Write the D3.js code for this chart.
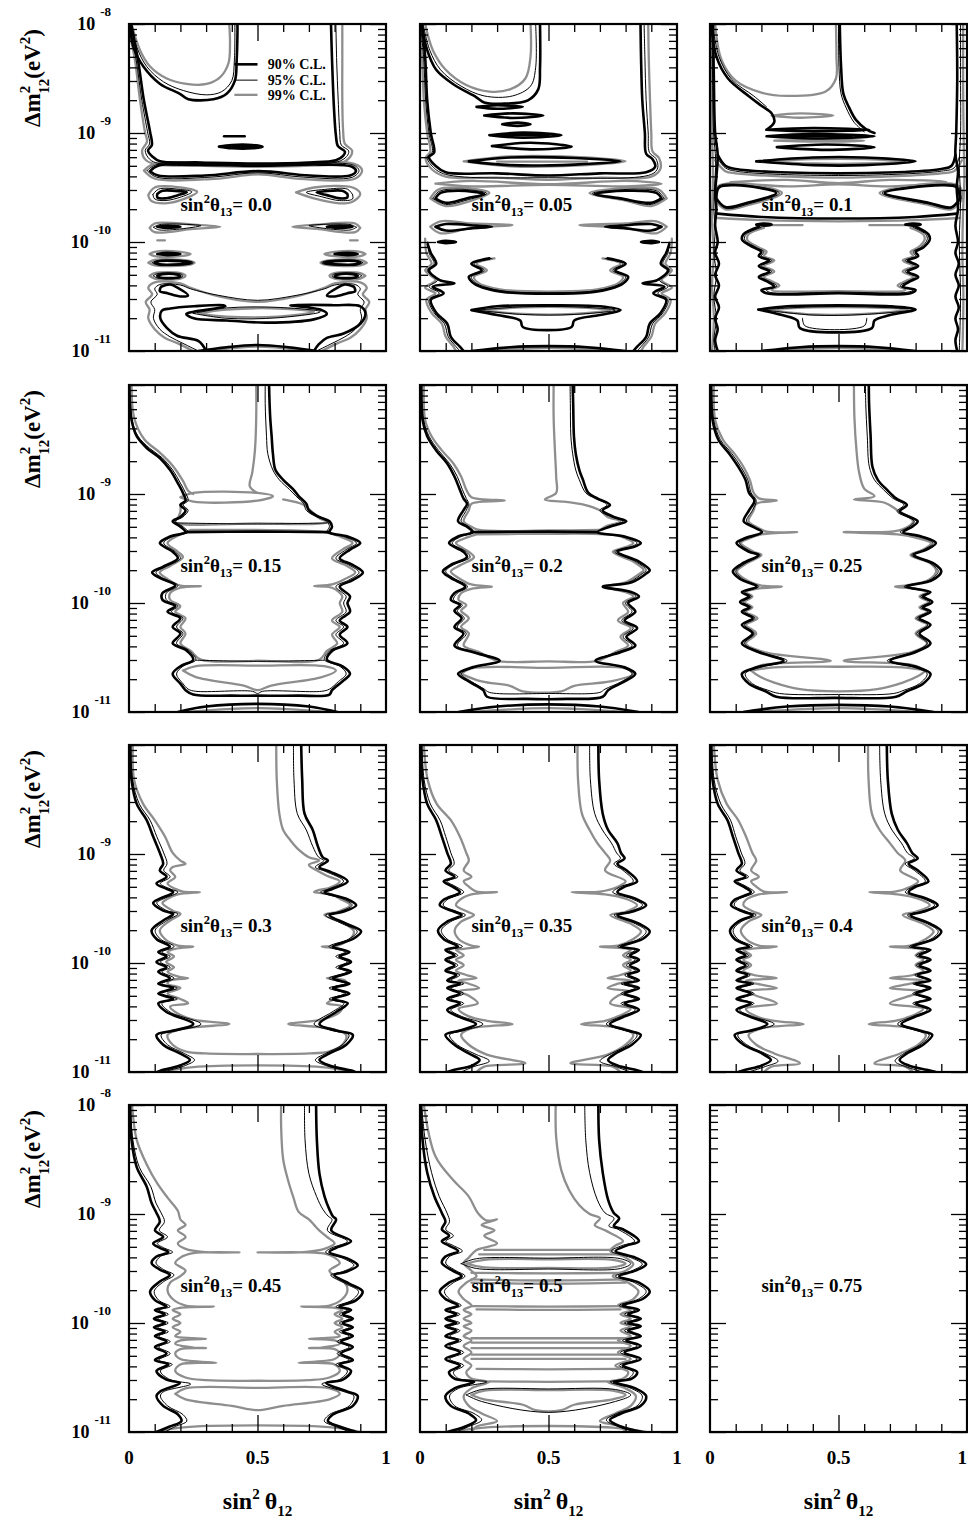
<!DOCTYPE html>
<html>
<head>
<meta charset="utf-8">
<script src="https://cdn.jsdelivr.net/npm/d3@7"></script>
<style>
  body { margin: 0; background: #fff; }
  svg text { font-family: "Liberation Serif", "Times New Roman", serif; font-weight: bold; fill: #000; }
</style>
</head>
<body>
<svg id="chart" width="968" height="1518"></svg>
<script>
// ---- labels and ticks ----
const thetaLabels = ["0.0","0.05","0.1","0.15","0.2","0.25","0.3","0.35","0.4","0.45","0.5","0.75"];
const levelLabels = ["90% C.L.","95% C.L.","99% C.L."];
const legendLogY = [-8.37, -8.515, -8.65];
const xMinorTicks = [0.1,0.2,0.3,0.4,0.6,0.7,0.8,0.9];
const xMajorTicks = [0.5];
const xTickLabels = [0, 0.5, 1];
const decadeExps = [-8,-9,-10,-11];
const rowLabelExps = [[-8,-9,-10,-11],[-9,-10,-11],[-9,-10,-11],[-8,-9,-10,-11]];

// ---- contours: [level, [[sin^2 theta12, log10 dm2], ...]] ; level 0 = 90%, 1 = 95%, 2 = 99% ----
const c000 = [
 [2,[[0.01,-8],[0.043,-8.24],[0.082,-8.39],[0.147,-8.5],[0.224,-8.55],[0.302,-8.55],[0.354,-8.49],[0.387,-8.36],[0.393,-8.18],[0.39,-8]]],
 [2,[[0,-8.06],[0.023,-8.33],[0.043,-8.7],[0.062,-8.99],[0.07,-9.08],[0.051,-9.16],[0.066,-9.25],[0.113,-9.29],[0.276,-9.3],[0.502,-9.31],[0.704,-9.3],[0.821,-9.28],[0.86,-9.22],[0.868,-9.16],[0.84,-9.1],[0.833,-8.97],[0.83,-8.7],[0.83,-8.33],[0.83,-8]]],
 [2,[[0.058,-9.345],[0.097,-9.285],[0.502,-9.29],[0.879,-9.285],[0.907,-9.345],[0.879,-9.42],[0.665,-9.42],[0.502,-9.38],[0.335,-9.42],[0.101,-9.42],[0.058,-9.345]]],
 [2,[[0.075,-9.57],[0.1,-9.5],[0.2,-9.5],[0.265,-9.54],[0.22,-9.6],[0.14,-9.645],[0.085,-9.62],[0.075,-9.57]]],
 [2,[[0.65,-9.545],[0.72,-9.5],[0.87,-9.5],[0.9,-9.56],[0.87,-9.63],[0.82,-9.645],[0.72,-9.6],[0.65,-9.545]]],
 [2,[[0.08,-9.87],[0.1,-9.83],[0.25,-9.84],[0.355,-9.86],[0.25,-9.88],[0.1,-9.91],[0.08,-9.87]]],
 [2,[[0.9,-9.87],[0.88,-9.83],[0.73,-9.84],[0.635,-9.86],[0.73,-9.88],[0.88,-9.91],[0.9,-9.87]]],
 [2,[[0.11,-9.985],[0.14,-9.985]]],
 [2,[[0.86,-9.985],[0.89,-9.985]]],
 [2,[[0.08,-10.11],[0.1,-10.09],[0.2,-10.09],[0.24,-10.11],[0.2,-10.13],[0.1,-10.13],[0.08,-10.11]]],
 [2,[[0.92,-10.11],[0.9,-10.09],[0.8,-10.09],[0.76,-10.11],[0.8,-10.13],[0.9,-10.13],[0.92,-10.11]]],
 [2,[[0.075,-10.19],[0.1,-10.165],[0.23,-10.17],[0.255,-10.19],[0.23,-10.21],[0.1,-10.215],[0.075,-10.19]]],
 [2,[[0.925,-10.19],[0.9,-10.165],[0.77,-10.17],[0.745,-10.19],[0.77,-10.21],[0.9,-10.215],[0.925,-10.19]]],
 [2,[[0.08,-10.31],[0.1,-10.285],[0.2,-10.285],[0.22,-10.31],[0.2,-10.335],[0.1,-10.335],[0.08,-10.31]]],
 [2,[[0.92,-10.31],[0.9,-10.285],[0.8,-10.285],[0.78,-10.31],[0.8,-10.335],[0.9,-10.335],[0.92,-10.31]]],
 [2,[[0.25,-11],[0.19,-10.93],[0.14,-10.88],[0.1,-10.8],[0.075,-10.7],[0.08,-10.62],[0.065,-10.55],[0.09,-10.48],[0.075,-10.42],[0.1,-10.37],[0.2,-10.38],[0.24,-10.42],[0.35,-10.5],[0.5,-10.55],[0.65,-10.5],[0.76,-10.42],[0.8,-10.38],[0.9,-10.37],[0.925,-10.42],[0.91,-10.48],[0.935,-10.55],[0.92,-10.62],[0.925,-10.7],[0.9,-10.8],[0.86,-10.88],[0.81,-10.93],[0.75,-11]]],
 [2,[[0.27,-10.655],[0.38,-10.62],[0.58,-10.61],[0.72,-10.64],[0.58,-10.685],[0.38,-10.685],[0.27,-10.655]]],
 [2,[[0.31,-11],[0.5,-10.96],[0.69,-11]]],
 [0,[[0.004,-8],[0.017,-8.21],[0.056,-8.39],[0.121,-8.55],[0.198,-8.64],[0.231,-8.69],[0.328,-8.69],[0.38,-8.64],[0.412,-8.52],[0.419,-8.33],[0.422,-8.09],[0.422,-8]]],
 [0,[[0.008,-8],[0.035,-8.33],[0.058,-8.7],[0.082,-8.99],[0.089,-9.11],[0.074,-9.16],[0.093,-9.22],[0.121,-9.26],[0.276,-9.27],[0.502,-9.28],[0.704,-9.27],[0.805,-9.25],[0.833,-9.21],[0.84,-9.17],[0.813,-9.12],[0.805,-9.02],[0.798,-8.79],[0.79,-8.33],[0.786,-8]]],
 [0,[[0.082,-9.35],[0.113,-9.3],[0.276,-9.29],[0.502,-9.3],[0.743,-9.29],[0.868,-9.31],[0.883,-9.35],[0.86,-9.39],[0.704,-9.39],[0.502,-9.35],[0.296,-9.39],[0.113,-9.39],[0.082,-9.35]]],
 [0,[[0.35,-9.125],[0.4,-9.11],[0.48,-9.11],[0.52,-9.125],[0.48,-9.14],[0.4,-9.14],[0.35,-9.125]]],
 [0,[[0.38,-9.125],[0.49,-9.125]]],
 [0,[[0.37,-9.03],[0.45,-9.03]]],
 [0,[[0.11,-9.56],[0.13,-9.53],[0.2,-9.535],[0.225,-9.545],[0.19,-9.57],[0.14,-9.6],[0.11,-9.59],[0.11,-9.56]]],
 [0,[[0.85,-9.56],[0.83,-9.53],[0.76,-9.535],[0.73,-9.545],[0.77,-9.57],[0.82,-9.6],[0.85,-9.59],[0.85,-9.56]]],
 [0,[[0.11,-9.86],[0.15,-9.85],[0.2,-9.86],[0.15,-9.872],[0.11,-9.86]]],
 [0,[[0.77,-9.86],[0.82,-9.85],[0.87,-9.86],[0.82,-9.872],[0.77,-9.86]]],
 [0,[[0.11,-10.11],[0.15,-10.1],[0.2,-10.11],[0.15,-10.12],[0.11,-10.11]]],
 [0,[[0.8,-10.11],[0.85,-10.1],[0.89,-10.11],[0.85,-10.12],[0.8,-10.11]]],
 [0,[[0.1,-10.19],[0.12,-10.175],[0.22,-10.18],[0.24,-10.19],[0.22,-10.2],[0.12,-10.205],[0.1,-10.19]]],
 [0,[[0.9,-10.19],[0.88,-10.175],[0.78,-10.18],[0.76,-10.19],[0.78,-10.2],[0.88,-10.205],[0.9,-10.19]]],
 [0,[[0.11,-10.31],[0.13,-10.295],[0.19,-10.3],[0.2,-10.31],[0.19,-10.325],[0.12,-10.325],[0.11,-10.31]]],
 [0,[[0.89,-10.31],[0.87,-10.295],[0.81,-10.3],[0.8,-10.31],[0.81,-10.325],[0.88,-10.325],[0.89,-10.31]]],
 [0,[[0.125,-10.41],[0.16,-10.39],[0.19,-10.42],[0.23,-10.49],[0.2,-10.5],[0.15,-10.47],[0.12,-10.45],[0.125,-10.41]]],
 [0,[[0.875,-10.41],[0.84,-10.39],[0.81,-10.42],[0.77,-10.49],[0.8,-10.5],[0.85,-10.47],[0.88,-10.45],[0.875,-10.41]]],
 [0,[[0.3,-11],[0.271,-10.91],[0.187,-10.86],[0.148,-10.79],[0.122,-10.7],[0.128,-10.63],[0.161,-10.61],[0.252,-10.59],[0.368,-10.58],[0.375,-10.59],[0.252,-10.64],[0.223,-10.66],[0.252,-10.7],[0.381,-10.72],[0.537,-10.74],[0.719,-10.71],[0.77,-10.66],[0.744,-10.62],[0.628,-10.58],[0.796,-10.58],[0.9,-10.59],[0.92,-10.65],[0.9,-10.75],[0.835,-10.84],[0.77,-10.88],[0.738,-10.94],[0.72,-11]]],
 [0,[[0.27,-11],[0.38,-10.965],[0.5,-10.945],[0.62,-10.965],[0.73,-11]]],
 [1,[[0.007,-8],[0.03,-8.21],[0.069,-8.39],[0.134,-8.53],[0.211,-8.61],[0.302,-8.65],[0.361,-8.62],[0.4,-8.52],[0.41,-8.33],[0.412,-8]]],
 [1,[[0.004,-8.03],[0.028,-8.33],[0.05,-8.7],[0.072,-8.99],[0.08,-9.1],[0.063,-9.16],[0.08,-9.24],[0.117,-9.28],[0.5,-9.295],[0.81,-9.265],[0.847,-9.215],[0.855,-9.165],[0.826,-9.11],[0.82,-8.99],[0.814,-8.7],[0.808,-8.33],[0.805,-8]]],
 [1,[[0.07,-9.345],[0.105,-9.293],[0.5,-9.297],[0.873,-9.295],[0.895,-9.345],[0.87,-9.405],[0.68,-9.405],[0.5,-9.365],[0.32,-9.405],[0.107,-9.405],[0.07,-9.345]]],
 [1,[[0.093,-9.565],[0.115,-9.515],[0.2,-9.518],[0.245,-9.54],[0.205,-9.585],[0.14,-9.62],[0.1,-9.605],[0.093,-9.565]]],
 [1,[[0.87,-9.565],[0.85,-9.515],[0.76,-9.518],[0.69,-9.545],[0.75,-9.585],[0.82,-9.62],[0.87,-9.605],[0.87,-9.565]]],
 [1,[[0.095,-9.865],[0.12,-9.84],[0.28,-9.85],[0.12,-9.89],[0.095,-9.865]]],
 [1,[[0.885,-9.865],[0.86,-9.84],[0.7,-9.85],[0.86,-9.89],[0.885,-9.865]]],
 [1,[[0.09,-10.19],[0.11,-10.17],[0.235,-10.175],[0.25,-10.19],[0.235,-10.205],[0.11,-10.21],[0.09,-10.19]]],
 [1,[[0.91,-10.19],[0.89,-10.17],[0.765,-10.175],[0.75,-10.19],[0.765,-10.205],[0.89,-10.21],[0.91,-10.19]]],
 [1,[[0.095,-10.31],[0.11,-10.29],[0.2,-10.292],[0.21,-10.31],[0.2,-10.328],[0.11,-10.33],[0.095,-10.31]]],
 [1,[[0.905,-10.31],[0.89,-10.29],[0.8,-10.292],[0.79,-10.31],[0.8,-10.328],[0.89,-10.33],[0.905,-10.31]]],
 [1,[[0.27,-11],[0.21,-10.93],[0.16,-10.87],[0.12,-10.8],[0.095,-10.7],[0.1,-10.62],[0.085,-10.55],[0.11,-10.48],[0.1,-10.43],[0.12,-10.39],[0.2,-10.395],[0.24,-10.43],[0.35,-10.49],[0.5,-10.535],[0.65,-10.49],[0.76,-10.43],[0.8,-10.395],[0.88,-10.39],[0.9,-10.43],[0.89,-10.48],[0.915,-10.55],[0.9,-10.62],[0.905,-10.7],[0.88,-10.8],[0.84,-10.87],[0.79,-10.93],[0.73,-11]]],
 [1,[[0.25,-10.655],[0.38,-10.605],[0.58,-10.6],[0.745,-10.64],[0.58,-10.695],[0.38,-10.7],[0.25,-10.655]]]
];

const c005 = [
 [2,[[0.02,-8],[0.05,-8.24],[0.1,-8.42],[0.18,-8.56],[0.27,-8.62],[0.35,-8.6],[0.41,-8.5],[0.43,-8.3],[0.43,-8]]],
 [2,[[0,-8.05],[0.008,-8.3],[0.015,-8.7],[0.028,-9],[0.04,-9.17],[0.022,-9.23],[0.045,-9.33],[0.1,-9.4],[0.3,-9.41],[0.5,-9.43],[0.7,-9.41],[0.9,-9.4],[0.935,-9.33],[0.93,-9.23],[0.905,-9.17],[0.9,-9],[0.895,-8.7],[0.89,-8.3],[0.888,-8]]],
 [2,[[0.06,-9.465],[0.2,-9.44],[0.5,-9.47],[0.8,-9.44],[0.94,-9.465],[0.8,-9.49],[0.5,-9.475],[0.2,-9.49],[0.06,-9.465]]],
 [2,[[0.17,-9.26],[0.35,-9.215],[0.6,-9.22],[0.8,-9.26],[0.6,-9.3],[0.35,-9.305],[0.17,-9.26]]],
 [2,[[0.3,-9.262],[0.65,-9.262]]],
 [2,[[0.04,-9.6],[0.07,-9.52],[0.15,-9.5],[0.27,-9.55],[0.2,-9.62],[0.1,-9.67],[0.04,-9.6]]],
 [2,[[0.96,-9.6],[0.93,-9.52],[0.85,-9.5],[0.66,-9.55],[0.8,-9.62],[0.9,-9.67],[0.96,-9.6]]],
 [2,[[0.04,-9.86],[0.08,-9.81],[0.2,-9.83],[0.36,-9.845],[0.2,-9.87],[0.08,-9.92],[0.04,-9.86]]],
 [2,[[0.96,-9.86],[0.92,-9.81],[0.8,-9.83],[0.62,-9.845],[0.8,-9.87],[0.92,-9.92],[0.96,-9.86]]],
 [2,[[0.02,-9.97],[0.025,-10.1],[0.045,-10.2],[0.02,-10.26],[0.06,-10.35],[0.02,-10.42],[0.06,-10.47],[0.025,-10.53],[0.045,-10.65],[0.085,-10.75],[0.1,-10.87],[0.13,-10.96],[0.14,-11]]],
 [2,[[0.98,-9.97],[0.975,-10.1],[0.955,-10.2],[0.98,-10.26],[0.94,-10.35],[0.98,-10.42],[0.94,-10.47],[0.975,-10.53],[0.955,-10.65],[0.915,-10.75],[0.9,-10.87],[0.87,-10.96],[0.86,-11]]],
 [2,[[0.29,-10.15],[0.22,-10.2],[0.26,-10.26],[0.21,-10.32],[0.23,-10.38],[0.28,-10.42],[0.35,-10.445],[0.5,-10.455],[0.65,-10.445],[0.72,-10.42],[0.77,-10.38],[0.79,-10.32],[0.74,-10.26],[0.78,-10.2],[0.71,-10.15]]],
 [2,[[0.24,-10.625],[0.4,-10.6],[0.6,-10.6],[0.74,-10.625],[0.6,-10.66],[0.4,-10.66],[0.24,-10.625]]],
 [2,[[0.25,-11],[0.5,-10.97],[0.75,-11]]],
 [0,[[0.007,-8],[0.028,-8.24],[0.063,-8.42],[0.134,-8.56],[0.218,-8.67],[0.25,-8.72],[0.33,-8.73],[0.42,-8.7],[0.46,-8.6],[0.467,-8.4],[0.467,-8]]],
 [0,[[0.22,-8.76],[0.3,-8.745],[0.4,-8.76],[0.3,-8.778],[0.22,-8.76]]],
 [0,[[0.25,-8.84],[0.36,-8.82],[0.48,-8.84],[0.36,-8.862],[0.25,-8.84]]],
 [0,[[0.32,-8.92],[0.38,-8.905],[0.43,-8.92],[0.38,-8.935],[0.32,-8.92]]],
 [0,[[0.27,-9.02],[0.4,-8.997],[0.55,-9.02],[0.4,-9.043],[0.27,-9.02]]],
 [0,[[0.3,-9.02],[0.5,-9.02]]],
 [0,[[0.28,-9.12],[0.43,-9.09],[0.59,-9.125],[0.43,-9.15],[0.28,-9.12]]],
 [0,[[0.19,-9.26],[0.35,-9.225],[0.6,-9.23],[0.78,-9.26],[0.6,-9.29],[0.35,-9.295],[0.19,-9.26]]],
 [0,[[0.007,-8],[0.02,-8.3],[0.028,-8.7],[0.042,-9],[0.055,-9.18],[0.035,-9.22],[0.06,-9.3],[0.1,-9.36],[0.3,-9.37],[0.5,-9.39],[0.7,-9.37],[0.88,-9.36],[0.915,-9.31],[0.905,-9.24],[0.88,-9.19],[0.875,-9],[0.865,-8.7],[0.86,-8.3],[0.858,-8]]],
 [0,[[0.06,-9.6],[0.08,-9.55],[0.15,-9.53],[0.25,-9.56],[0.18,-9.6],[0.1,-9.64],[0.06,-9.6]]],
 [0,[[0.94,-9.6],[0.92,-9.55],[0.8,-9.53],[0.68,-9.56],[0.78,-9.6],[0.9,-9.64],[0.94,-9.6]]],
 [0,[[0.06,-9.86],[0.1,-9.835],[0.22,-9.85],[0.28,-9.86],[0.2,-9.875],[0.1,-9.895],[0.06,-9.86]]],
 [0,[[0.94,-9.86],[0.9,-9.835],[0.78,-9.85],[0.72,-9.86],[0.8,-9.875],[0.9,-9.895],[0.94,-9.86]]],
 [0,[[0.07,-10],[0.1,-9.99],[0.14,-10],[0.1,-10.01],[0.07,-10]]],
 [0,[[0.93,-10],[0.9,-9.99],[0.86,-10],[0.9,-10.01],[0.93,-10]]],
 [0,[[0.03,-10.02],[0.042,-10.1],[0.063,-10.2],[0.035,-10.26],[0.077,-10.35],[0.134,-10.38],[0.049,-10.41],[0.092,-10.47],[0.042,-10.53],[0.063,-10.65],[0.106,-10.75],[0.12,-10.87],[0.155,-10.96],[0.17,-11]]],
 [0,[[0.97,-10.02],[0.958,-10.1],[0.937,-10.2],[0.965,-10.26],[0.923,-10.35],[0.866,-10.38],[0.951,-10.41],[0.908,-10.47],[0.958,-10.53],[0.937,-10.65],[0.894,-10.75],[0.88,-10.87],[0.845,-10.96],[0.83,-11]]],
 [0,[[0.27,-10.15],[0.2,-10.2],[0.24,-10.26],[0.19,-10.32],[0.21,-10.38],[0.26,-10.43],[0.33,-10.46],[0.5,-10.475],[0.67,-10.46],[0.74,-10.43],[0.79,-10.38],[0.81,-10.32],[0.76,-10.26],[0.8,-10.2],[0.73,-10.15]]],
 [0,[[0.2,-10.625],[0.3,-10.59],[0.5,-10.58],[0.7,-10.59],[0.78,-10.625],[0.7,-10.67],[0.6,-10.72],[0.59,-10.78],[0.4,-10.78],[0.39,-10.72],[0.3,-10.67],[0.2,-10.625]]],
 [0,[[0.2,-11],[0.35,-10.965],[0.5,-10.955],[0.65,-10.965],[0.8,-11]]],
 [1,[[0.012,-8],[0.038,-8.24],[0.08,-8.42],[0.16,-8.57],[0.25,-8.66],[0.36,-8.66],[0.43,-8.57],[0.45,-8.4],[0.45,-8]]],
 [1,[[0.003,-8.03],[0.014,-8.3],[0.022,-8.7],[0.035,-9],[0.048,-9.175],[0.028,-9.225],[0.052,-9.315],[0.1,-9.38],[0.5,-9.41],[0.9,-9.38],[0.925,-9.32],[0.918,-9.235],[0.893,-9.18],[0.888,-9],[0.88,-8.7],[0.875,-8.3],[0.872,-8]]],
 [1,[[0.05,-9.6],[0.075,-9.535],[0.15,-9.515],[0.26,-9.555],[0.19,-9.61],[0.1,-9.655],[0.05,-9.6]]],
 [1,[[0.95,-9.6],[0.925,-9.535],[0.85,-9.515],[0.67,-9.555],[0.79,-9.61],[0.9,-9.655],[0.95,-9.6]]],
 [1,[[0.03,-10],[0.035,-10.1],[0.055,-10.2],[0.028,-10.26],[0.068,-10.35],[0.035,-10.41],[0.075,-10.47],[0.035,-10.53],[0.055,-10.65],[0.095,-10.75],[0.11,-10.87],[0.14,-10.96],[0.155,-11]]],
 [1,[[0.97,-10],[0.965,-10.1],[0.945,-10.2],[0.972,-10.26],[0.932,-10.35],[0.965,-10.41],[0.925,-10.47],[0.965,-10.53],[0.945,-10.65],[0.905,-10.75],[0.89,-10.87],[0.86,-10.96],[0.845,-11]]],
 [1,[[0.28,-10.15],[0.21,-10.2],[0.25,-10.26],[0.2,-10.32],[0.22,-10.38],[0.27,-10.425],[0.34,-10.455],[0.5,-10.465],[0.66,-10.455],[0.73,-10.425],[0.78,-10.38],[0.8,-10.32],[0.75,-10.26],[0.79,-10.2],[0.72,-10.15]]],
 [1,[[0.22,-10.625],[0.4,-10.595],[0.6,-10.595],[0.76,-10.625],[0.6,-10.665],[0.4,-10.665],[0.22,-10.625]]]
];

const c010 = [
 [2,[[0.02,-8],[0.045,-8.33],[0.1,-8.52],[0.2,-8.63],[0.3,-8.66],[0.45,-8.62],[0.49,-8.5],[0.492,-8.3],[0.49,-8]]],
 [2,[[0.24,-8.84],[0.35,-8.82],[0.48,-8.84],[0.35,-8.86],[0.24,-8.84]]],
 [2,[[0.25,-9.07],[0.45,-9.06],[0.6,-9.07],[0.45,-9.08],[0.25,-9.07]]],
 [2,[[0.22,-9.26],[0.4,-9.24],[0.6,-9.24],[0.76,-9.26],[0.6,-9.28],[0.4,-9.28],[0.22,-9.26]]],
 [2,[[0.004,-8],[0.006,-8.5],[0.008,-9],[0.012,-9.4],[0.008,-9.8],[0.015,-10.1],[0.008,-10.4],[0.015,-10.7],[0.008,-11]]],
 [2,[[0.985,-8],[0.985,-8.6],[0.988,-9.2],[0.99,-9.4],[0.985,-9.7],[0.982,-10.1],[0.986,-10.5],[0.982,-11]]],
 [2,[[0.02,-9.25],[0.06,-9.35],[0.1,-9.37],[0.5,-9.41],[0.9,-9.37],[0.95,-9.35],[0.98,-9.25]]],
 [2,[[0.08,-9.45],[0.3,-9.43],[0.5,-9.46],[0.7,-9.43],[0.92,-9.45],[0.7,-9.49],[0.5,-9.47],[0.3,-9.49],[0.08,-9.45]]],
 [2,[[0.015,-9.6],[0.03,-9.49],[0.1,-9.46],[0.28,-9.55],[0.15,-9.66],[0.06,-9.7],[0.015,-9.6]]],
 [2,[[0.985,-9.6],[0.97,-9.49],[0.9,-9.46],[0.66,-9.55],[0.85,-9.66],[0.94,-9.7],[0.985,-9.6]]],
 [2,[[0.03,-9.78],[0.2,-9.8],[0.5,-9.81],[0.8,-9.8],[0.97,-9.78]]],
 [2,[[0.2,-9.845],[0.36,-9.845]]],
 [2,[[0.62,-9.845],[0.8,-9.845]]],
 [2,[[0.21,-9.87],[0.15,-9.93],[0.145,-9.98],[0.19,-10.05],[0.22,-10.09],[0.21,-10.13],[0.25,-10.17],[0.21,-10.22],[0.25,-10.27],[0.21,-10.32],[0.24,-10.36],[0.27,-10.4],[0.24,-10.44],[0.5,-10.45],[0.76,-10.44],[0.73,-10.4],[0.76,-10.36],[0.79,-10.32],[0.75,-10.27],[0.79,-10.22],[0.75,-10.17],[0.79,-10.13],[0.78,-10.09],[0.81,-10.05],[0.835,-9.98],[0.83,-9.93],[0.78,-9.87]]],
 [2,[[0.22,-10.62],[0.4,-10.6],[0.6,-10.6],[0.77,-10.62],[0.6,-10.66],[0.4,-10.665],[0.22,-10.62]]],
 [2,[[0.25,-11],[0.5,-10.97],[0.75,-11]]],
 [0,[[0.005,-8],[0.025,-8.3],[0.07,-8.5],[0.15,-8.66],[0.2,-8.75],[0.24,-8.82],[0.25,-8.9],[0.22,-8.97]]],
 [0,[[0.505,-8],[0.51,-8.39],[0.519,-8.64],[0.54,-8.76],[0.568,-8.88],[0.61,-8.97],[0.64,-9]]],
 [0,[[0.22,-8.97],[0.4,-8.955],[0.62,-8.97],[0.4,-8.985],[0.22,-8.97]]],
 [0,[[0.22,-9.03],[0.4,-9.01],[0.64,-9.03],[0.4,-9.05],[0.22,-9.03]]],
 [0,[[0.3,-9.03],[0.55,-9.03]]],
 [0,[[0.26,-9.13],[0.45,-9.105],[0.64,-9.13],[0.45,-9.155],[0.26,-9.13]]],
 [0,[[0.18,-9.26],[0.4,-9.225],[0.6,-9.225],[0.8,-9.26],[0.6,-9.295],[0.4,-9.295],[0.18,-9.26]]],
 [0,[[0.012,-8],[0.015,-8.5],[0.02,-9],[0.03,-9.2],[0.025,-9.4],[0.02,-9.55],[0.025,-9.7],[0.02,-9.85],[0.03,-10],[0.02,-10.1],[0.035,-10.2],[0.02,-10.3],[0.035,-10.4],[0.02,-10.5],[0.035,-10.6],[0.02,-10.7],[0.03,-10.8],[0.02,-10.9],[0.03,-11]]],
 [0,[[0.96,-8],[0.962,-8.5],[0.958,-9],[0.955,-9.2],[0.965,-9.35],[0.96,-9.5],[0.965,-9.7],[0.955,-9.85],[0.965,-10],[0.955,-10.1],[0.968,-10.2],[0.955,-10.3],[0.968,-10.4],[0.955,-10.5],[0.968,-10.6],[0.955,-10.7],[0.965,-10.8],[0.955,-10.9],[0.962,-11]]],
 [0,[[0.03,-9.2],[0.06,-9.3],[0.1,-9.33],[0.5,-9.37],[0.9,-9.33],[0.94,-9.3],[0.955,-9.2]]],
 [0,[[0.025,-9.6],[0.035,-9.5],[0.1,-9.48],[0.258,-9.55],[0.145,-9.64],[0.06,-9.68],[0.025,-9.6]]],
 [0,[[0.972,-9.6],[0.96,-9.5],[0.9,-9.48],[0.68,-9.55],[0.85,-9.64],[0.94,-9.68],[0.972,-9.6]]],
 [0,[[0.03,-9.74],[0.2,-9.77],[0.5,-9.785],[0.8,-9.77],[0.96,-9.74]]],
 [0,[[0.18,-9.84],[0.21,-9.83],[0.24,-9.84],[0.21,-9.85],[0.18,-9.84]]],
 [0,[[0.76,-9.84],[0.79,-9.83],[0.82,-9.84],[0.79,-9.85],[0.76,-9.84]]],
 [0,[[0.19,-9.86],[0.13,-9.93],[0.125,-9.98],[0.17,-10.05],[0.2,-10.09],[0.19,-10.13],[0.23,-10.17],[0.19,-10.22],[0.23,-10.27],[0.19,-10.32],[0.22,-10.36],[0.25,-10.41],[0.2,-10.44],[0.22,-10.47],[0.5,-10.47],[0.78,-10.47],[0.8,-10.44],[0.75,-10.41],[0.78,-10.36],[0.81,-10.32],[0.77,-10.27],[0.81,-10.22],[0.77,-10.17],[0.81,-10.13],[0.8,-10.09],[0.83,-10.05],[0.855,-9.98],[0.85,-9.93],[0.8,-9.86]]],
 [0,[[0.188,-10.62],[0.3,-10.59],[0.5,-10.58],[0.7,-10.59],[0.8,-10.62],[0.7,-10.67],[0.64,-10.72],[0.63,-10.79],[0.35,-10.79],[0.34,-10.72],[0.28,-10.67],[0.188,-10.62]]],
 [0,[[0.2,-11],[0.35,-10.965],[0.5,-10.955],[0.65,-10.965],[0.8,-11]]],
 [1,[[0.01,-8],[0.035,-8.3],[0.085,-8.51],[0.17,-8.66],[0.22,-8.76]]],
 [1,[[0.5,-8],[0.502,-8.4],[0.51,-8.64],[0.53,-8.77],[0.56,-8.9],[0.6,-8.99]]],
 [1,[[0.008,-8],[0.01,-8.5],[0.014,-9],[0.022,-9.25],[0.018,-9.5],[0.015,-9.7],[0.02,-9.9],[0.015,-10.1],[0.025,-10.3],[0.015,-10.5],[0.025,-10.7],[0.015,-10.9],[0.02,-11]]],
 [1,[[0.975,-8],[0.975,-8.5],[0.975,-9],[0.97,-9.3],[0.975,-9.6],[0.97,-10],[0.975,-10.5],[0.97,-11]]],
 [1,[[0.025,-9.22],[0.06,-9.32],[0.1,-9.35],[0.5,-9.39],[0.9,-9.35],[0.95,-9.32],[0.97,-9.22]]],
 [1,[[0.02,-9.6],[0.033,-9.49],[0.1,-9.47],[0.27,-9.55],[0.15,-9.65],[0.06,-9.69],[0.02,-9.6]]],
 [1,[[0.978,-9.6],[0.965,-9.49],[0.9,-9.47],[0.67,-9.55],[0.85,-9.65],[0.94,-9.69],[0.978,-9.6]]],
 [1,[[0.2,-9.865],[0.14,-9.93],[0.135,-9.98],[0.18,-10.05],[0.21,-10.09],[0.2,-10.13],[0.24,-10.17],[0.2,-10.22],[0.24,-10.27],[0.2,-10.32],[0.23,-10.36],[0.26,-10.405],[0.22,-10.44],[0.23,-10.46],[0.5,-10.46],[0.77,-10.46],[0.79,-10.44],[0.74,-10.405],[0.77,-10.36],[0.8,-10.32],[0.76,-10.27],[0.8,-10.22],[0.76,-10.17],[0.8,-10.13],[0.79,-10.09],[0.82,-10.05],[0.845,-9.98],[0.84,-9.93],[0.79,-9.865]]],
 [1,[[0.2,-10.62],[0.4,-10.595],[0.6,-10.595],[0.79,-10.62],[0.6,-10.665],[0.4,-10.67],[0.2,-10.62]]],
 [1,[[0.36,-10.7],[0.37,-10.77],[0.6,-10.77],[0.61,-10.7]]]
];

const c015 = [
 [2,[[0.01,-8],[0.02,-8.3],[0.06,-8.5],[0.12,-8.62],[0.17,-8.74],[0.21,-8.88],[0.23,-8.97],[0.25,-9]]],
 [2,[[0.2,-9.03],[0.25,-8.99],[0.5,-8.99],[0.56,-9.02],[0.5,-9.06],[0.25,-9.07],[0.2,-9.03]]],
 [2,[[0.495,-8],[0.495,-8.3],[0.49,-8.6],[0.48,-8.8],[0.47,-8.93],[0.5,-8.99]]],
 [2,[[0.2,-9.1],[0.2,-9.16],[0.19,-9.22],[0.18,-9.26],[0.5,-9.27],[0.77,-9.26],[0.74,-9.22],[0.71,-9.16],[0.68,-9.1],[0.6,-9.05]]],
 [2,[[0.24,-9.33],[0.2,-9.37],[0.15,-9.45],[0.19,-9.53],[0.21,-9.58],[0.16,-9.66],[0.12,-9.72],[0.15,-9.78],[0.2,-9.84],[0.28,-9.845],[0.2,-9.86],[0.16,-9.91],[0.16,-9.97],[0.2,-10.03],[0.18,-10.08],[0.22,-10.14],[0.2,-10.22],[0.22,-10.28],[0.2,-10.37],[0.24,-10.44],[0.28,-10.52],[0.5,-10.53],[0.74,-10.52],[0.77,-10.44],[0.81,-10.37],[0.79,-10.29],[0.82,-10.22],[0.79,-10.16],[0.83,-10.08],[0.82,-10],[0.83,-9.94],[0.79,-9.86],[0.72,-9.845],[0.79,-9.83],[0.84,-9.78],[0.88,-9.72],[0.84,-9.65],[0.79,-9.59],[0.83,-9.51],[0.87,-9.45],[0.82,-9.39],[0.76,-9.35],[0.5,-9.33],[0.24,-9.33]]],
 [2,[[0.21,-10.62],[0.26,-10.58],[0.5,-10.575],[0.76,-10.58],[0.805,-10.62],[0.75,-10.68],[0.55,-10.76],[0.5,-10.8],[0.45,-10.76],[0.26,-10.68],[0.21,-10.62]]],
 [2,[[0.22,-11],[0.5,-10.965],[0.78,-11]]],
 [0,[[0,-8],[0.01,-8.32],[0.03,-8.47],[0.07,-8.58],[0.12,-8.67],[0.16,-8.78],[0.19,-8.9],[0.21,-8.99],[0.22,-9.06],[0.2,-9.1],[0.22,-9.15],[0.2,-9.21],[0.17,-9.25],[0.2,-9.3],[0.22,-9.35],[0.16,-9.39],[0.12,-9.45],[0.17,-9.53],[0.19,-9.59],[0.13,-9.67],[0.09,-9.72],[0.12,-9.77],[0.18,-9.84],[0.13,-9.91],[0.13,-9.97],[0.18,-10.03],[0.15,-10.08],[0.2,-10.14],[0.17,-10.22],[0.2,-10.28],[0.17,-10.37],[0.22,-10.43],[0.25,-10.52],[0.2,-10.58],[0.17,-10.65],[0.2,-10.74],[0.22,-10.8],[0.25,-10.84],[0.4,-10.85],[0.5,-10.85],[0.66,-10.85],[0.78,-10.84],[0.79,-10.8],[0.83,-10.72],[0.86,-10.65],[0.83,-10.58],[0.77,-10.52],[0.79,-10.44],[0.85,-10.37],[0.82,-10.29],[0.85,-10.22],[0.82,-10.16],[0.86,-10.08],[0.85,-10],[0.86,-9.94],[0.82,-9.85],[0.87,-9.79],[0.91,-9.72],[0.87,-9.65],[0.82,-9.59],[0.86,-9.51],[0.9,-9.45],[0.85,-9.39],[0.78,-9.35],[0.79,-9.3],[0.78,-9.25],[0.74,-9.21],[0.7,-9.15],[0.69,-9.09],[0.66,-9.02],[0.64,-8.96],[0.6,-8.87],[0.57,-8.78],[0.56,-8.63],[0.555,-8.47],[0.55,-8.32],[0.547,-8.17],[0.545,-8]]],
 [0,[[0.22,-9.35],[0.5,-9.345],[0.78,-9.35]]],
 [0,[[0.19,-11],[0.3,-10.95],[0.5,-10.925],[0.7,-10.95],[0.81,-11]]],
 [1,[[0.004,-8],[0.012,-8.32],[0.035,-8.47],[0.08,-8.58],[0.13,-8.67],[0.17,-8.78],[0.2,-8.9],[0.22,-8.99],[0.23,-9.06],[0.21,-9.1],[0.23,-9.15],[0.21,-9.21],[0.18,-9.25],[0.21,-9.3],[0.23,-9.35],[0.17,-9.39],[0.135,-9.45],[0.18,-9.53],[0.2,-9.59],[0.14,-9.67],[0.105,-9.72],[0.13,-9.77],[0.19,-9.84],[0.145,-9.91],[0.145,-9.97],[0.19,-10.03],[0.165,-10.08],[0.21,-10.14],[0.185,-10.22],[0.21,-10.28],[0.185,-10.37],[0.23,-10.43],[0.26,-10.52],[0.21,-10.58],[0.185,-10.65],[0.21,-10.74],[0.23,-10.79],[0.26,-10.81],[0.48,-10.81],[0.5,-10.83],[0.52,-10.81],[0.75,-10.81],[0.78,-10.79],[0.815,-10.72],[0.845,-10.65],[0.82,-10.58],[0.76,-10.52],[0.78,-10.44],[0.835,-10.37],[0.805,-10.29],[0.835,-10.22],[0.805,-10.16],[0.845,-10.08],[0.835,-10],[0.845,-9.94],[0.805,-9.85],[0.855,-9.79],[0.895,-9.72],[0.855,-9.65],[0.805,-9.59],[0.845,-9.51],[0.885,-9.45],[0.835,-9.39],[0.77,-9.35],[0.78,-9.3],[0.77,-9.25],[0.73,-9.21],[0.69,-9.15],[0.68,-9.09],[0.65,-9.02],[0.625,-8.96],[0.585,-8.87],[0.56,-8.78],[0.54,-8.63],[0.535,-8.47],[0.532,-8.32],[0.53,-8.17],[0.53,-8]]],
 [1,[[0.18,-9.265],[0.5,-9.275],[0.78,-9.265]]],
 [1,[[0.26,-10.525],[0.5,-10.535],[0.76,-10.525]]]
];

const c020 = [
 [2,[[0.015,-8],[0.02,-8.32],[0.045,-8.47],[0.085,-8.6],[0.13,-8.72],[0.16,-8.84],[0.18,-8.96],[0.2,-9.03],[0.33,-9.06],[0.2,-9.09],[0.19,-9.15],[0.17,-9.25],[0.2,-9.3],[0.23,-9.33],[0.5,-9.335],[0.7,-9.33]]],
 [2,[[0.52,-8],[0.52,-8.3],[0.525,-8.6],[0.53,-8.85],[0.53,-8.99],[0.486,-9.05],[0.56,-9.07],[0.64,-9.1],[0.7,-9.15],[0.73,-9.21],[0.78,-9.25],[0.72,-9.3],[0.7,-9.33]]],
 [2,[[0.22,-9.37],[0.17,-9.41],[0.14,-9.45],[0.19,-9.53],[0.21,-9.58],[0.16,-9.65],[0.12,-9.71],[0.15,-9.77],[0.2,-9.83],[0.28,-9.85],[0.2,-9.87],[0.16,-9.91],[0.15,-9.97],[0.18,-10.02],[0.16,-10.07],[0.19,-10.14],[0.16,-10.22],[0.19,-10.28],[0.17,-10.39],[0.23,-10.45],[0.3,-10.53],[0.5,-10.535],[0.69,-10.53],[0.76,-10.45],[0.81,-10.39],[0.78,-10.31],[0.82,-10.23],[0.77,-10.16],[0.81,-10.08],[0.79,-10],[0.83,-9.94],[0.8,-9.9],[0.72,-9.85],[0.8,-9.81],[0.855,-9.73],[0.87,-9.7],[0.83,-9.62],[0.75,-9.53],[0.81,-9.48],[0.83,-9.45],[0.78,-9.39],[0.72,-9.37],[0.5,-9.365],[0.22,-9.37]]],
 [2,[[0.16,-10.65],[0.2,-10.6],[0.5,-10.595],[0.8,-10.6],[0.83,-10.65],[0.74,-10.72],[0.6,-10.76],[0.55,-10.81],[0.4,-10.81],[0.35,-10.76],[0.24,-10.72],[0.16,-10.65]]],
 [2,[[0.2,-11],[0.5,-10.965],[0.8,-11]]],
 [0,[[0.004,-8],[0.01,-8.32],[0.028,-8.47],[0.063,-8.6],[0.106,-8.72],[0.134,-8.84],[0.155,-8.96],[0.169,-9.04],[0.183,-9.09],[0.169,-9.15],[0.148,-9.25],[0.183,-9.3],[0.204,-9.35],[0.148,-9.39],[0.113,-9.45],[0.169,-9.53],[0.183,-9.58],[0.12,-9.65],[0.089,-9.71],[0.12,-9.77],[0.176,-9.85],[0.134,-9.91],[0.12,-9.97],[0.155,-10.02],[0.134,-10.07],[0.162,-10.14],[0.134,-10.22],[0.169,-10.28],[0.134,-10.39],[0.204,-10.45],[0.31,-10.53],[0.204,-10.59],[0.148,-10.65],[0.19,-10.72],[0.246,-10.8],[0.261,-10.86],[0.415,-10.88],[0.57,-10.88],[0.711,-10.86],[0.732,-10.8],[0.796,-10.72],[0.838,-10.65],[0.796,-10.59],[0.683,-10.53],[0.782,-10.45],[0.838,-10.39],[0.803,-10.31],[0.845,-10.23],[0.796,-10.16],[0.838,-10.08],[0.81,-10],[0.852,-9.94],[0.824,-9.9],[0.711,-9.85],[0.824,-9.81],[0.88,-9.73],[0.894,-9.7],[0.852,-9.62],[0.768,-9.53],[0.838,-9.48],[0.859,-9.45],[0.796,-9.39],[0.69,-9.35],[0.739,-9.3],[0.803,-9.25],[0.754,-9.21],[0.711,-9.15],[0.739,-9.1],[0.69,-9.04],[0.655,-8.99],[0.634,-8.87],[0.62,-8.78],[0.606,-8.63],[0.599,-8.47],[0.596,-8.17],[0.594,-8]]],
 [0,[[0.2,-9.35],[0.5,-9.345],[0.69,-9.35]]],
 [0,[[0.15,-11],[0.3,-10.95],[0.5,-10.93],[0.7,-10.95],[0.85,-11]]],
 [1,[[0.008,-8],[0.014,-8.32],[0.035,-8.47],[0.072,-8.6],[0.115,-8.72],[0.145,-8.84],[0.165,-8.96],[0.18,-9.04],[0.19,-9.09],[0.18,-9.15],[0.16,-9.25],[0.19,-9.3],[0.21,-9.35],[0.16,-9.39],[0.125,-9.45],[0.18,-9.53],[0.195,-9.58],[0.13,-9.65],[0.1,-9.71],[0.13,-9.77],[0.185,-9.85],[0.145,-9.91],[0.13,-9.97],[0.165,-10.02],[0.145,-10.07],[0.172,-10.14],[0.145,-10.22],[0.18,-10.28],[0.145,-10.39],[0.215,-10.45],[0.31,-10.53],[0.215,-10.59],[0.16,-10.65],[0.2,-10.72],[0.25,-10.79],[0.27,-10.82],[0.5,-10.83],[0.7,-10.82],[0.72,-10.79],[0.785,-10.72],[0.825,-10.65],[0.785,-10.59],[0.683,-10.53],[0.77,-10.45],[0.825,-10.39],[0.79,-10.31],[0.83,-10.23],[0.785,-10.16],[0.825,-10.08],[0.8,-10],[0.84,-9.94],[0.812,-9.9],[0.711,-9.85],[0.812,-9.81],[0.865,-9.73],[0.88,-9.7],[0.84,-9.62],[0.758,-9.53],[0.825,-9.48],[0.845,-9.45],[0.785,-9.39],[0.69,-9.35],[0.73,-9.3],[0.79,-9.25],[0.745,-9.21],[0.7,-9.15],[0.728,-9.1],[0.68,-9.04],[0.645,-8.99],[0.62,-8.87],[0.606,-8.78],[0.594,-8.63],[0.587,-8.47],[0.585,-8.17],[0.584,-8]]]
];

const c025 = [
 [2,[[0.015,-8],[0.02,-8.32],[0.05,-8.5],[0.095,-8.63],[0.13,-8.75],[0.155,-8.87],[0.17,-8.99],[0.19,-9.04],[0.26,-9.06],[0.18,-9.09],[0.17,-9.15],[0.15,-9.25],[0.18,-9.3],[0.22,-9.345],[0.34,-9.35],[0.2,-9.37],[0.15,-9.41],[0.12,-9.45],[0.17,-9.53],[0.2,-9.56],[0.14,-9.64],[0.105,-9.71],[0.135,-9.78],[0.2,-9.84],[0.28,-9.85],[0.18,-9.87],[0.14,-9.9],[0.165,-9.94],[0.135,-9.99],[0.165,-10.04],[0.14,-10.08],[0.185,-10.14],[0.14,-10.2],[0.18,-10.28],[0.14,-10.37],[0.21,-10.45],[0.47,-10.53],[0.2,-10.57],[0.16,-10.62]]],
 [2,[[0.56,-8],[0.562,-8.3],[0.57,-8.6],[0.58,-8.8],[0.6,-8.95],[0.64,-9.02],[0.56,-9.05],[0.68,-9.08],[0.73,-9.15],[0.79,-9.25],[0.77,-9.3],[0.72,-9.34],[0.52,-9.35],[0.73,-9.37],[0.8,-9.4],[0.86,-9.45],[0.83,-9.51],[0.78,-9.56],[0.86,-9.64],[0.88,-9.71],[0.85,-9.79],[0.76,-9.84],[0.72,-9.85],[0.8,-9.87],[0.845,-9.9],[0.815,-9.94],[0.85,-9.99],[0.815,-10.04],[0.845,-10.08],[0.8,-10.14],[0.845,-10.2],[0.8,-10.28],[0.845,-10.37],[0.785,-10.45],[0.52,-10.53],[0.79,-10.57],[0.84,-10.62]]],
 [2,[[0.16,-10.62],[0.19,-10.67],[0.25,-10.73],[0.35,-10.79],[0.5,-10.81],[0.65,-10.79],[0.75,-10.73],[0.81,-10.67],[0.84,-10.62]]],
 [2,[[0.16,-10.62],[0.25,-10.59],[0.5,-10.585],[0.75,-10.59],[0.84,-10.62]]],
 [2,[[0.18,-11],[0.5,-10.965],[0.82,-11]]],
 [0,[[0.004,-8],[0.01,-8.32],[0.032,-8.5],[0.075,-8.63],[0.11,-8.75],[0.138,-8.87],[0.152,-8.99],[0.173,-9.06],[0.152,-9.15],[0.131,-9.25],[0.166,-9.3],[0.202,-9.35],[0.131,-9.41],[0.103,-9.45],[0.152,-9.53],[0.188,-9.56],[0.124,-9.64],[0.089,-9.71],[0.117,-9.78],[0.181,-9.85],[0.124,-9.9],[0.152,-9.94],[0.117,-9.99],[0.152,-10.04],[0.124,-10.08],[0.166,-10.14],[0.124,-10.2],[0.166,-10.28],[0.124,-10.37],[0.188,-10.45],[0.286,-10.53],[0.181,-10.59],[0.124,-10.65],[0.152,-10.74],[0.216,-10.81],[0.258,-10.86],[0.484,-10.87],[0.724,-10.86],[0.766,-10.81],[0.829,-10.74],[0.858,-10.65],[0.808,-10.59],[0.702,-10.53],[0.801,-10.45],[0.858,-10.37],[0.815,-10.28],[0.858,-10.2],[0.815,-10.14],[0.858,-10.08],[0.829,-10.04],[0.865,-9.99],[0.829,-9.94],[0.858,-9.9],[0.766,-9.85],[0.865,-9.79],[0.9,-9.71],[0.872,-9.64],[0.794,-9.56],[0.843,-9.51],[0.879,-9.45],[0.822,-9.39],[0.752,-9.35],[0.787,-9.3],[0.808,-9.25],[0.738,-9.16],[0.766,-9.1],[0.724,-9.04],[0.688,-8.96],[0.653,-8.87],[0.632,-8.75],[0.625,-8.47],[0.619,-8.17],[0.618,-8]]],
 [0,[[0.13,-11],[0.3,-10.95],[0.5,-10.935],[0.7,-10.95],[0.87,-11]]],
 [1,[[0.007,-8],[0.014,-8.32],[0.04,-8.5],[0.085,-8.63],[0.12,-8.75],[0.147,-8.87],[0.16,-8.99],[0.18,-9.06],[0.165,-9.15],[0.142,-9.25],[0.172,-9.3],[0.205,-9.35],[0.142,-9.41],[0.115,-9.45],[0.16,-9.53],[0.195,-9.56],[0.135,-9.64],[0.1,-9.71],[0.127,-9.78],[0.19,-9.85],[0.134,-9.9],[0.16,-9.94],[0.127,-9.99],[0.16,-10.04],[0.134,-10.08],[0.175,-10.14],[0.134,-10.2],[0.172,-10.28],[0.134,-10.37],[0.198,-10.45],[0.3,-10.53],[0.195,-10.59],[0.137,-10.65],[0.165,-10.74],[0.225,-10.8],[0.27,-10.83],[0.5,-10.84],[0.715,-10.83],[0.755,-10.8],[0.815,-10.74],[0.845,-10.65],[0.795,-10.59],[0.69,-10.53],[0.79,-10.45],[0.845,-10.37],[0.805,-10.28],[0.848,-10.2],[0.805,-10.14],[0.848,-10.08],[0.82,-10.04],[0.855,-9.99],[0.82,-9.94],[0.848,-9.9],[0.755,-9.85],[0.855,-9.79],[0.888,-9.71],[0.86,-9.64],[0.785,-9.56],[0.832,-9.51],[0.868,-9.45],[0.812,-9.39],[0.74,-9.35],[0.775,-9.3],[0.795,-9.25],[0.728,-9.16],[0.755,-9.1],[0.712,-9.04],[0.675,-8.96],[0.64,-8.87],[0.62,-8.75],[0.612,-8.47],[0.606,-8.17],[0.605,-8]]]
];

const c030 = [
 [2,[[0.015,-8],[0.02,-8.32],[0.055,-8.54],[0.1,-8.69],[0.14,-8.84],[0.17,-8.99],[0.2,-9.06],[0.22,-9.09],[0.17,-9.12],[0.16,-9.15],[0.18,-9.21],[0.15,-9.27],[0.18,-9.32],[0.21,-9.345],[0.276,-9.35],[0.19,-9.37],[0.15,-9.41],[0.13,-9.45],[0.17,-9.52],[0.2,-9.55],[0.16,-9.61],[0.12,-9.7],[0.14,-9.78],[0.19,-9.84],[0.25,-9.85],[0.18,-9.87],[0.15,-9.9],[0.175,-9.94],[0.145,-9.99],[0.175,-10.04],[0.15,-10.08],[0.2,-10.13],[0.23,-10.14],[0.16,-10.16],[0.15,-10.19],[0.2,-10.23],[0.15,-10.28],[0.2,-10.33],[0.23,-10.37],[0.16,-10.4],[0.18,-10.45],[0.25,-10.52],[0.39,-10.56],[0.22,-10.6],[0.15,-10.66],[0.17,-10.75],[0.22,-10.81],[0.3,-10.83],[0.5,-10.835],[0.7,-10.83],[0.78,-10.81],[0.83,-10.75],[0.845,-10.66],[0.78,-10.6],[0.62,-10.56],[0.75,-10.52],[0.82,-10.45],[0.83,-10.4],[0.77,-10.37],[0.8,-10.33],[0.84,-10.28],[0.8,-10.23],[0.845,-10.19],[0.84,-10.16],[0.77,-10.14],[0.8,-10.13],[0.85,-10.08],[0.825,-10.04],[0.855,-9.99],[0.82,-9.94],[0.845,-9.9],[0.82,-9.87],[0.75,-9.85],[0.81,-9.84],[0.86,-9.78],[0.875,-9.71],[0.84,-9.64],[0.76,-9.56],[0.81,-9.53],[0.86,-9.47],[0.82,-9.41],[0.79,-9.37],[0.72,-9.35],[0.74,-9.33],[0.78,-9.31],[0.82,-9.25],[0.77,-9.2],[0.73,-9.15],[0.7,-9.1],[0.74,-9.06],[0.7,-9.03],[0.66,-8.96],[0.63,-8.88],[0.6,-8.78],[0.585,-8.63],[0.575,-8.32],[0.573,-8]]],
 [2,[[0.12,-11],[0.25,-10.955],[0.5,-10.94],[0.75,-10.955],[0.88,-11]]],
 [0,[[0.004,-8],[0.01,-8.32],[0.03,-8.54],[0.069,-8.69],[0.094,-8.84],[0.12,-8.99],[0.133,-9.09],[0.12,-9.15],[0.146,-9.21],[0.107,-9.27],[0.146,-9.32],[0.172,-9.35],[0.12,-9.41],[0.094,-9.45],[0.133,-9.52],[0.172,-9.55],[0.133,-9.61],[0.088,-9.7],[0.107,-9.78],[0.159,-9.85],[0.114,-9.9],[0.146,-9.94],[0.107,-9.99],[0.146,-10.04],[0.114,-10.08],[0.159,-10.14],[0.114,-10.19],[0.172,-10.23],[0.114,-10.28],[0.172,-10.33],[0.114,-10.37],[0.146,-10.45],[0.25,-10.56],[0.172,-10.62],[0.107,-10.66],[0.133,-10.75],[0.198,-10.83],[0.237,-10.89],[0.198,-10.94],[0.12,-10.99],[0.11,-11]]],
 [0,[[0.67,-8],[0.674,-8.32],[0.683,-8.63],[0.715,-8.78],[0.735,-8.93],[0.754,-9.03],[0.774,-9.06],[0.741,-9.12],[0.78,-9.16],[0.851,-9.25],[0.793,-9.32],[0.761,-9.35],[0.845,-9.41],[0.884,-9.47],[0.832,-9.53],[0.78,-9.56],[0.845,-9.64],[0.903,-9.71],[0.871,-9.78],[0.793,-9.85],[0.858,-9.9],[0.819,-9.94],[0.864,-9.99],[0.819,-10.04],[0.864,-10.08],[0.793,-10.14],[0.858,-10.19],[0.793,-10.23],[0.858,-10.28],[0.793,-10.33],[0.851,-10.37],[0.806,-10.45],[0.741,-10.56],[0.806,-10.62],[0.871,-10.66],[0.845,-10.75],[0.78,-10.83],[0.741,-10.89],[0.78,-10.94],[0.871,-10.99],[0.88,-11]]],
 [1,[[0.008,-8],[0.014,-8.32],[0.04,-8.54],[0.082,-8.69],[0.108,-8.84],[0.135,-8.99],[0.148,-9.09],[0.135,-9.15],[0.16,-9.21],[0.122,-9.27],[0.16,-9.32],[0.19,-9.35],[0.135,-9.41],[0.108,-9.45],[0.148,-9.52],[0.19,-9.55],[0.148,-9.61],[0.102,-9.7],[0.122,-9.78],[0.175,-9.85],[0.128,-9.9],[0.16,-9.94],[0.122,-9.99],[0.16,-10.04],[0.128,-10.08],[0.175,-10.14],[0.128,-10.19],[0.188,-10.23],[0.128,-10.28],[0.188,-10.33],[0.128,-10.37],[0.16,-10.45],[0.28,-10.56],[0.19,-10.62],[0.125,-10.66],[0.15,-10.75],[0.215,-10.83],[0.255,-10.89],[0.22,-10.94],[0.15,-10.99],[0.14,-11]]],
 [1,[[0.64,-8],[0.642,-8.32],[0.655,-8.63],[0.69,-8.78],[0.715,-8.93],[0.738,-9.03],[0.758,-9.06],[0.725,-9.12],[0.765,-9.16],[0.835,-9.25],[0.778,-9.32],[0.745,-9.35],[0.83,-9.41],[0.868,-9.47],[0.817,-9.53],[0.765,-9.56],[0.83,-9.64],[0.888,-9.71],[0.856,-9.78],[0.778,-9.85],[0.843,-9.9],[0.805,-9.94],[0.85,-9.99],[0.805,-10.04],[0.85,-10.08],[0.778,-10.14],[0.843,-10.19],[0.778,-10.23],[0.843,-10.28],[0.778,-10.33],[0.836,-10.37],[0.79,-10.45],[0.72,-10.56],[0.79,-10.62],[0.856,-10.66],[0.83,-10.75],[0.765,-10.83],[0.725,-10.89],[0.765,-10.94],[0.85,-10.99],[0.86,-11]]]
];

const c035 = [
 [2,[[0.015,-8],[0.03,-8.32],[0.065,-8.54],[0.12,-8.69],[0.155,-8.84],[0.18,-8.99],[0.19,-9.06],[0.17,-9.15],[0.2,-9.21],[0.17,-9.25],[0.19,-9.3],[0.22,-9.345],[0.3,-9.35],[0.2,-9.37],[0.155,-9.42],[0.14,-9.47],[0.185,-9.53],[0.21,-9.56],[0.16,-9.62],[0.135,-9.7],[0.15,-9.78],[0.2,-9.84],[0.23,-9.85],[0.17,-9.87],[0.14,-9.88],[0.17,-9.93],[0.14,-9.97],[0.17,-10.02],[0.14,-10.07],[0.18,-10.11],[0.22,-10.14],[0.15,-10.16],[0.19,-10.19],[0.23,-10.23],[0.15,-10.26],[0.19,-10.3],[0.225,-10.37],[0.15,-10.42],[0.19,-10.49],[0.26,-10.53],[0.36,-10.56],[0.2,-10.6],[0.16,-10.66],[0.19,-10.75],[0.26,-10.84],[0.41,-10.92],[0.25,-10.95],[0.22,-11]]],
 [2,[[0.613,-8],[0.615,-8.32],[0.63,-8.63],[0.66,-8.78],[0.69,-8.9],[0.72,-8.99],[0.74,-9.06],[0.72,-9.15],[0.8,-9.25],[0.77,-9.3],[0.7,-9.345],[0.59,-9.35],[0.72,-9.37],[0.8,-9.41],[0.845,-9.47],[0.8,-9.53],[0.74,-9.56],[0.82,-9.64],[0.86,-9.71],[0.83,-9.78],[0.77,-9.84],[0.7,-9.85],[0.82,-9.88],[0.79,-9.93],[0.82,-9.97],[0.79,-10.02],[0.82,-10.07],[0.78,-10.11],[0.73,-10.14],[0.82,-10.16],[0.77,-10.19],[0.73,-10.23],[0.82,-10.26],[0.77,-10.3],[0.74,-10.37],[0.82,-10.42],[0.77,-10.49],[0.72,-10.53],[0.627,-10.56],[0.79,-10.6],[0.83,-10.66],[0.8,-10.75],[0.73,-10.84],[0.585,-10.92],[0.75,-10.95],[0.78,-11]]],
 [0,[[0.004,-8],[0.01,-8.32],[0.028,-8.54],[0.063,-8.69],[0.085,-8.84],[0.106,-8.99],[0.12,-9.09],[0.099,-9.15],[0.134,-9.21],[0.092,-9.25],[0.127,-9.3],[0.155,-9.35],[0.092,-9.42],[0.077,-9.47],[0.134,-9.53],[0.162,-9.56],[0.106,-9.62],[0.07,-9.7],[0.092,-9.78],[0.148,-9.85],[0.099,-9.88],[0.134,-9.93],[0.099,-9.97],[0.134,-10.02],[0.099,-10.07],[0.141,-10.11],[0.106,-10.16],[0.155,-10.19],[0.106,-10.23],[0.155,-10.28],[0.106,-10.33],[0.155,-10.37],[0.106,-10.43],[0.148,-10.49],[0.218,-10.56],[0.155,-10.62],[0.099,-10.66],[0.134,-10.75],[0.19,-10.83],[0.232,-10.89],[0.204,-10.94],[0.134,-10.98],[0.106,-11]]],
 [0,[[0.694,-8],[0.697,-8.32],[0.711,-8.63],[0.732,-8.78],[0.768,-8.9],[0.782,-8.99],[0.796,-9.04],[0.768,-9.09],[0.803,-9.15],[0.845,-9.25],[0.796,-9.3],[0.768,-9.35],[0.838,-9.41],[0.88,-9.47],[0.824,-9.53],[0.768,-9.56],[0.852,-9.64],[0.894,-9.71],[0.866,-9.78],[0.782,-9.85],[0.852,-9.88],[0.817,-9.93],[0.852,-9.97],[0.817,-10.02],[0.852,-10.07],[0.81,-10.11],[0.852,-10.16],[0.796,-10.19],[0.852,-10.23],[0.796,-10.28],[0.852,-10.33],[0.796,-10.37],[0.852,-10.43],[0.796,-10.49],[0.739,-10.56],[0.81,-10.62],[0.859,-10.66],[0.824,-10.75],[0.761,-10.83],[0.732,-10.89],[0.768,-10.94],[0.838,-10.98],[0.866,-11]]],
 [1,[[0.008,-8],[0.016,-8.32],[0.04,-8.54],[0.078,-8.69],[0.1,-8.84],[0.12,-8.99],[0.133,-9.09],[0.112,-9.15],[0.147,-9.21],[0.105,-9.25],[0.14,-9.3],[0.17,-9.35],[0.105,-9.42],[0.09,-9.47],[0.147,-9.53],[0.177,-9.56],[0.12,-9.62],[0.083,-9.7],[0.105,-9.78],[0.165,-9.85],[0.112,-9.88],[0.147,-9.93],[0.112,-9.97],[0.147,-10.02],[0.112,-10.07],[0.155,-10.11],[0.12,-10.16],[0.17,-10.19],[0.12,-10.23],[0.17,-10.28],[0.12,-10.33],[0.17,-10.37],[0.12,-10.43],[0.162,-10.49],[0.245,-10.56],[0.17,-10.62],[0.115,-10.66],[0.145,-10.75],[0.21,-10.83],[0.27,-10.9],[0.21,-10.95],[0.16,-11]]],
 [1,[[0.66,-8],[0.663,-8.32],[0.68,-8.63],[0.71,-8.78],[0.745,-8.9],[0.765,-8.99],[0.78,-9.04],[0.755,-9.09],[0.79,-9.15],[0.83,-9.25],[0.78,-9.3],[0.75,-9.35],[0.823,-9.41],[0.866,-9.47],[0.81,-9.53],[0.755,-9.56],[0.838,-9.64],[0.88,-9.71],[0.852,-9.78],[0.77,-9.85],[0.838,-9.88],[0.803,-9.93],[0.838,-9.97],[0.803,-10.02],[0.838,-10.07],[0.796,-10.11],[0.838,-10.16],[0.782,-10.19],[0.838,-10.23],[0.782,-10.28],[0.838,-10.33],[0.782,-10.37],[0.838,-10.43],[0.782,-10.49],[0.725,-10.56],[0.796,-10.62],[0.845,-10.66],[0.81,-10.75],[0.745,-10.83],[0.7,-10.9],[0.76,-10.95],[0.82,-11]]]
];

const c040 = [
 [2,[[0.015,-8],[0.03,-8.32],[0.065,-8.54],[0.11,-8.69],[0.14,-8.84],[0.165,-8.99],[0.18,-9.06],[0.16,-9.15],[0.19,-9.21],[0.16,-9.25],[0.18,-9.3],[0.21,-9.345],[0.3,-9.35],[0.19,-9.37],[0.14,-9.42],[0.13,-9.47],[0.17,-9.53],[0.2,-9.56],[0.15,-9.62],[0.12,-9.7],[0.14,-9.78],[0.19,-9.84],[0.26,-9.85],[0.16,-9.87],[0.13,-9.88],[0.16,-9.93],[0.13,-9.97],[0.16,-10.02],[0.13,-10.07],[0.17,-10.11],[0.26,-10.14],[0.14,-10.16],[0.18,-10.19],[0.26,-10.23],[0.14,-10.26],[0.18,-10.3],[0.26,-10.37],[0.14,-10.42],[0.18,-10.49],[0.25,-10.53],[0.364,-10.56],[0.2,-10.6],[0.15,-10.66],[0.18,-10.75],[0.25,-10.83],[0.35,-10.92],[0.24,-10.95],[0.21,-11]]],
 [2,[[0.615,-8],[0.617,-8.32],[0.63,-8.63],[0.66,-8.78],[0.7,-8.9],[0.73,-8.99],[0.76,-9.06],[0.74,-9.15],[0.81,-9.25],[0.78,-9.3],[0.72,-9.345],[0.62,-9.35],[0.73,-9.37],[0.81,-9.41],[0.855,-9.47],[0.8,-9.53],[0.75,-9.56],[0.83,-9.64],[0.87,-9.71],[0.84,-9.78],[0.78,-9.84],[0.7,-9.85],[0.83,-9.88],[0.8,-9.93],[0.83,-9.97],[0.8,-10.02],[0.83,-10.07],[0.79,-10.11],[0.7,-10.14],[0.83,-10.16],[0.78,-10.19],[0.7,-10.23],[0.83,-10.26],[0.78,-10.3],[0.7,-10.37],[0.83,-10.42],[0.78,-10.49],[0.72,-10.53],[0.618,-10.56],[0.79,-10.6],[0.84,-10.66],[0.81,-10.75],[0.74,-10.83],[0.64,-10.92],[0.76,-10.95],[0.79,-11]]],
 [0,[[0.004,-8],[0.01,-8.32],[0.03,-8.54],[0.068,-8.69],[0.089,-8.84],[0.11,-8.99],[0.124,-9.09],[0.103,-9.15],[0.138,-9.21],[0.096,-9.25],[0.131,-9.3],[0.159,-9.35],[0.096,-9.42],[0.082,-9.47],[0.131,-9.53],[0.166,-9.56],[0.11,-9.62],[0.078,-9.7],[0.096,-9.78],[0.152,-9.85],[0.103,-9.88],[0.138,-9.93],[0.103,-9.97],[0.138,-10.02],[0.103,-10.07],[0.145,-10.11],[0.103,-10.16],[0.159,-10.19],[0.103,-10.23],[0.159,-10.28],[0.103,-10.33],[0.159,-10.37],[0.103,-10.43],[0.152,-10.49],[0.223,-10.56],[0.159,-10.62],[0.096,-10.66],[0.131,-10.75],[0.202,-10.83],[0.237,-10.89],[0.202,-10.94],[0.138,-10.98],[0.11,-11]]],
 [0,[[0.688,-8],[0.692,-8.32],[0.707,-8.63],[0.731,-8.78],[0.766,-8.9],[0.787,-8.99],[0.808,-9.04],[0.773,-9.09],[0.808,-9.15],[0.85,-9.25],[0.801,-9.3],[0.773,-9.35],[0.843,-9.41],[0.886,-9.47],[0.829,-9.53],[0.78,-9.56],[0.858,-9.64],[0.9,-9.71],[0.872,-9.78],[0.787,-9.85],[0.858,-9.88],[0.815,-9.93],[0.858,-9.97],[0.815,-10.02],[0.858,-10.07],[0.808,-10.11],[0.858,-10.16],[0.801,-10.19],[0.858,-10.23],[0.801,-10.28],[0.858,-10.33],[0.801,-10.37],[0.858,-10.43],[0.801,-10.49],[0.745,-10.56],[0.815,-10.62],[0.865,-10.66],[0.829,-10.75],[0.766,-10.83],[0.738,-10.89],[0.773,-10.94],[0.843,-10.98],[0.879,-11]]],
 [1,[[0.008,-8],[0.016,-8.32],[0.042,-8.54],[0.08,-8.69],[0.1,-8.84],[0.122,-8.99],[0.136,-9.09],[0.116,-9.15],[0.15,-9.21],[0.108,-9.25],[0.143,-9.3],[0.172,-9.35],[0.108,-9.42],[0.094,-9.47],[0.143,-9.53],[0.18,-9.56],[0.122,-9.62],[0.09,-9.7],[0.108,-9.78],[0.165,-9.85],[0.115,-9.88],[0.15,-9.93],[0.115,-9.97],[0.15,-10.02],[0.115,-10.07],[0.157,-10.11],[0.115,-10.16],[0.171,-10.19],[0.115,-10.23],[0.171,-10.28],[0.115,-10.33],[0.171,-10.37],[0.115,-10.43],[0.165,-10.49],[0.25,-10.56],[0.172,-10.62],[0.108,-10.66],[0.143,-10.75],[0.215,-10.83],[0.265,-10.9],[0.215,-10.95],[0.15,-11]]],
 [1,[[0.66,-8],[0.664,-8.32],[0.68,-8.63],[0.708,-8.78],[0.745,-8.9],[0.768,-8.99],[0.795,-9.04],[0.76,-9.09],[0.795,-9.15],[0.838,-9.25],[0.788,-9.3],[0.76,-9.35],[0.83,-9.41],[0.874,-9.47],[0.817,-9.53],[0.768,-9.56],[0.846,-9.64],[0.888,-9.71],[0.86,-9.78],[0.775,-9.85],[0.846,-9.88],[0.803,-9.93],[0.846,-9.97],[0.803,-10.02],[0.846,-10.07],[0.796,-10.11],[0.846,-10.16],[0.789,-10.19],[0.846,-10.23],[0.789,-10.28],[0.846,-10.33],[0.789,-10.37],[0.846,-10.43],[0.789,-10.49],[0.73,-10.56],[0.803,-10.62],[0.853,-10.66],[0.817,-10.75],[0.755,-10.83],[0.72,-10.9],[0.76,-10.95],[0.83,-11]]]
];

const c045 = [
 [2,[[0.012,-8],[0.03,-8.32],[0.07,-8.55],[0.11,-8.72],[0.15,-8.85],[0.19,-8.97],[0.2,-9.05],[0.22,-9.1],[0.19,-9.15],[0.22,-9.21],[0.19,-9.27],[0.22,-9.32],[0.3,-9.35],[0.43,-9.352],[0.25,-9.36],[0.2,-9.4],[0.18,-9.45],[0.22,-9.52],[0.2,-9.57],[0.16,-9.63],[0.15,-9.7],[0.17,-9.78],[0.22,-9.84],[0.33,-9.85],[0.2,-9.86],[0.17,-9.88],[0.2,-9.92],[0.17,-9.96],[0.2,-10],[0.17,-10.04],[0.2,-10.08],[0.18,-10.12],[0.25,-10.14],[0.3,-10.145],[0.2,-10.16],[0.18,-10.19],[0.25,-10.225],[0.3,-10.23],[0.2,-10.24],[0.18,-10.28],[0.2,-10.33],[0.34,-10.365],[0.2,-10.38],[0.18,-10.44],[0.22,-10.5],[0.3,-10.525],[0.5,-10.53],[0.7,-10.525],[0.78,-10.5],[0.82,-10.44],[0.8,-10.38],[0.66,-10.365],[0.8,-10.33],[0.82,-10.28],[0.8,-10.24],[0.7,-10.23],[0.75,-10.225],[0.82,-10.19],[0.8,-10.16],[0.7,-10.145],[0.75,-10.14],[0.82,-10.12],[0.8,-10.08],[0.83,-10.04],[0.8,-10],[0.83,-9.96],[0.8,-9.92],[0.83,-9.88],[0.8,-9.86],[0.67,-9.85],[0.78,-9.84],[0.83,-9.78],[0.85,-9.7],[0.84,-9.63],[0.8,-9.57],[0.78,-9.52],[0.82,-9.45],[0.8,-9.4],[0.75,-9.36],[0.5,-9.352],[0.68,-9.35],[0.76,-9.32],[0.8,-9.27],[0.77,-9.21],[0.74,-9.15],[0.72,-9.1],[0.7,-9.05],[0.66,-8.98],[0.64,-8.85],[0.62,-8.7],[0.6,-8.5],[0.592,-8.2],[0.592,-8]]],
 [2,[[0.18,-10.65],[0.22,-10.6],[0.5,-10.595],[0.78,-10.6],[0.82,-10.65],[0.78,-10.7],[0.6,-10.76],[0.5,-10.8],[0.4,-10.76],[0.22,-10.7],[0.18,-10.65]]],
 [2,[[0.1,-11],[0.2,-10.96],[0.5,-10.94],[0.8,-10.96],[0.9,-11]]],
 [0,[[0.004,-8],[0.01,-8.32],[0.03,-8.57],[0.069,-8.75],[0.088,-8.9],[0.107,-8.99],[0.12,-9.07],[0.101,-9.15],[0.133,-9.21],[0.094,-9.27],[0.12,-9.31],[0.153,-9.35],[0.107,-9.39],[0.088,-9.45],[0.12,-9.51],[0.159,-9.56],[0.12,-9.62],[0.082,-9.71],[0.101,-9.79],[0.146,-9.85],[0.101,-9.88],[0.139,-9.92],[0.097,-9.96],[0.139,-10],[0.097,-10.04],[0.139,-10.08],[0.101,-10.12],[0.146,-10.17],[0.101,-10.22],[0.146,-10.28],[0.101,-10.34],[0.153,-10.38],[0.107,-10.44],[0.146,-10.52],[0.198,-10.55],[0.12,-10.63],[0.107,-10.67],[0.133,-10.76],[0.191,-10.84],[0.204,-10.9],[0.159,-10.95],[0.107,-11]]],
 [0,[[0.728,-8],[0.731,-8.32],[0.741,-8.63],[0.761,-8.84],[0.78,-8.96],[0.793,-9.02],[0.806,-9.05],[0.787,-9.15],[0.864,-9.25],[0.806,-9.31],[0.78,-9.35],[0.851,-9.41],[0.89,-9.47],[0.845,-9.53],[0.799,-9.56],[0.858,-9.64],[0.909,-9.71],[0.884,-9.79],[0.819,-9.85],[0.864,-9.88],[0.832,-9.92],[0.871,-9.96],[0.832,-10],[0.871,-10.04],[0.832,-10.08],[0.871,-10.12],[0.825,-10.17],[0.871,-10.22],[0.825,-10.28],[0.871,-10.34],[0.819,-10.38],[0.864,-10.44],[0.832,-10.52],[0.767,-10.55],[0.851,-10.63],[0.89,-10.67],[0.871,-10.76],[0.793,-10.84],[0.774,-10.9],[0.819,-10.95],[0.884,-11]]],
 [1,[[0.006,-8],[0.015,-8.32],[0.04,-8.57],[0.085,-8.75],[0.105,-8.9],[0.125,-8.99],[0.138,-9.07],[0.118,-9.15],[0.15,-9.21],[0.11,-9.27],[0.135,-9.31],[0.17,-9.35],[0.122,-9.39],[0.105,-9.45],[0.135,-9.51],[0.175,-9.56],[0.135,-9.62],[0.098,-9.71],[0.115,-9.79],[0.16,-9.85],[0.115,-9.88],[0.153,-9.92],[0.112,-9.96],[0.153,-10],[0.112,-10.04],[0.153,-10.08],[0.115,-10.12],[0.16,-10.17],[0.115,-10.22],[0.16,-10.28],[0.115,-10.34],[0.168,-10.38],[0.122,-10.44],[0.16,-10.52],[0.24,-10.56],[0.135,-10.63],[0.122,-10.67],[0.15,-10.76],[0.21,-10.84],[0.225,-10.9],[0.18,-10.95],[0.14,-11]]],
 [1,[[0.683,-8],[0.685,-8.32],[0.7,-8.63],[0.73,-8.84],[0.755,-8.96],[0.775,-9.02],[0.79,-9.05],[0.772,-9.15],[0.85,-9.25],[0.79,-9.31],[0.765,-9.35],[0.836,-9.41],[0.875,-9.47],[0.83,-9.53],[0.785,-9.56],[0.843,-9.64],[0.893,-9.71],[0.868,-9.79],[0.805,-9.85],[0.85,-9.88],[0.818,-9.92],[0.857,-9.96],[0.818,-10],[0.857,-10.04],[0.818,-10.08],[0.857,-10.12],[0.81,-10.17],[0.857,-10.22],[0.81,-10.28],[0.857,-10.34],[0.805,-10.38],[0.85,-10.44],[0.818,-10.52],[0.75,-10.56],[0.836,-10.63],[0.875,-10.67],[0.857,-10.76],[0.78,-10.84],[0.76,-10.9],[0.805,-10.95],[0.86,-11]]]
];

const c050 = [
 [2,[[0.015,-8],[0.06,-8.47],[0.13,-8.69],[0.19,-8.84],[0.225,-8.99],[0.26,-9.06],[0.3,-9.05],[0.24,-9.1],[0.29,-9.15],[0.25,-9.2],[0.3,-9.27],[0.22,-9.33],[0.19,-9.4],[0.17,-9.45],[0.2,-9.52],[0.22,-9.57],[0.18,-9.63],[0.15,-9.71],[0.17,-9.78],[0.2,-9.84],[0.17,-9.88],[0.2,-9.92],[0.17,-9.96],[0.2,-10],[0.17,-10.03],[0.2,-10.07],[0.17,-10.12],[0.2,-10.16],[0.17,-10.21],[0.2,-10.27],[0.17,-10.33],[0.2,-10.39],[0.18,-10.45],[0.2,-10.51],[0.27,-10.54],[0.2,-10.6],[0.17,-10.67],[0.19,-10.76],[0.24,-10.83],[0.3,-10.9],[0.22,-10.95],[0.2,-11]]],
 [2,[[0.528,-8],[0.53,-8.3],[0.55,-8.6],[0.58,-8.78],[0.62,-8.92],[0.66,-9],[0.7,-9.04],[0.68,-9.1],[0.72,-9.15],[0.79,-9.25],[0.76,-9.29],[0.74,-9.34],[0.8,-9.4],[0.83,-9.46],[0.8,-9.52],[0.75,-9.57],[0.81,-9.63],[0.85,-9.71],[0.83,-9.78],[0.77,-9.84],[0.82,-9.88],[0.78,-9.92],[0.82,-9.96],[0.78,-10],[0.82,-10.03],[0.78,-10.07],[0.82,-10.12],[0.77,-10.16],[0.82,-10.21],[0.77,-10.27],[0.82,-10.33],[0.76,-10.39],[0.81,-10.45],[0.79,-10.51],[0.73,-10.54],[0.8,-10.6],[0.84,-10.67],[0.82,-10.76],[0.76,-10.83],[0.7,-10.9],[0.78,-10.95],[0.8,-11]]],
 [2,[[0.25,-9.33],[0.5,-9.33],[0.75,-9.33]]],
 [2,[[0.23,-9.37],[0.5,-9.37],[0.77,-9.37]]],
 [2,[[0.18,-9.455],[0.25,-9.42],[0.5,-9.415],[0.75,-9.42],[0.8,-9.455],[0.75,-9.49],[0.5,-9.495],[0.25,-9.49],[0.18,-9.455]]],
 [2,[[0.2,-9.54],[0.5,-9.545],[0.8,-9.54]]],
 [2,[[0.2,-9.6],[0.5,-9.61],[0.8,-9.6]]],
 [2,[[0.2,-9.63],[0.5,-9.64],[0.8,-9.63]]],
 [2,[[0.2,-9.845],[0.5,-9.85],[0.8,-9.845]]],
 [2,[[0.22,-9.875],[0.5,-9.88],[0.78,-9.875]]],
 [2,[[0.2,-10.14],[0.5,-10.14],[0.8,-10.14]]],
 [2,[[0.2,-10.18],[0.5,-10.18],[0.8,-10.18]]],
 [2,[[0.2,-10.23],[0.5,-10.23],[0.8,-10.23]]],
 [2,[[0.2,-10.29],[0.5,-10.29],[0.8,-10.29]]],
 [2,[[0.2,-10.33],[0.5,-10.33],[0.8,-10.33]]],
 [2,[[0.22,-10.42],[0.5,-10.425],[0.78,-10.42]]],
 [2,[[0.27,-10.535],[0.5,-10.54],[0.73,-10.535]]],
 [2,[[0.2,-10.66],[0.25,-10.62],[0.5,-10.615],[0.75,-10.62],[0.8,-10.66],[0.75,-10.7],[0.6,-10.75],[0.55,-10.8],[0.45,-10.8],[0.4,-10.75],[0.25,-10.7],[0.2,-10.66]]],
 [2,[[0.12,-11],[0.25,-10.96],[0.5,-10.945],[0.75,-10.96],[0.88,-11]]],
 [0,[[0.004,-8],[0.01,-8.32],[0.028,-8.62],[0.056,-8.84],[0.085,-8.99],[0.099,-9.07],[0.085,-9.14],[0.113,-9.2],[0.085,-9.25],[0.113,-9.29],[0.148,-9.34],[0.099,-9.39],[0.085,-9.45],[0.127,-9.52],[0.162,-9.57],[0.113,-9.63],[0.077,-9.71],[0.099,-9.78],[0.148,-9.84],[0.099,-9.88],[0.141,-9.92],[0.099,-9.96],[0.141,-10],[0.099,-10.03],[0.141,-10.07],[0.099,-10.12],[0.148,-10.16],[0.099,-10.21],[0.155,-10.27],[0.099,-10.33],[0.155,-10.39],[0.113,-10.45],[0.134,-10.51],[0.211,-10.54],[0.134,-10.6],[0.099,-10.67],[0.12,-10.76],[0.19,-10.83],[0.218,-10.89],[0.176,-10.95],[0.106,-11]]],
 [0,[[0.694,-8],[0.697,-8.32],[0.711,-8.62],[0.732,-8.87],[0.754,-8.99],[0.775,-9.04],[0.754,-9.11],[0.789,-9.14],[0.852,-9.25],[0.803,-9.29],[0.761,-9.34],[0.838,-9.4],[0.88,-9.46],[0.838,-9.52],[0.775,-9.57],[0.852,-9.63],[0.894,-9.71],[0.866,-9.78],[0.789,-9.84],[0.852,-9.88],[0.81,-9.92],[0.859,-9.96],[0.81,-10],[0.859,-10.03],[0.81,-10.07],[0.859,-10.12],[0.803,-10.16],[0.859,-10.21],[0.796,-10.27],[0.859,-10.33],[0.789,-10.39],[0.845,-10.45],[0.824,-10.51],[0.754,-10.54],[0.838,-10.6],[0.88,-10.67],[0.859,-10.76],[0.782,-10.83],[0.739,-10.89],[0.782,-10.95],[0.866,-11]]],
 [1,[[0.006,-8],[0.02,-8.32],[0.045,-8.62],[0.075,-8.84],[0.105,-8.99],[0.115,-9.07],[0.1,-9.14],[0.13,-9.2],[0.1,-9.25],[0.13,-9.29],[0.165,-9.34],[0.115,-9.39],[0.1,-9.45],[0.14,-9.52],[0.175,-9.57],[0.13,-9.63],[0.095,-9.71],[0.115,-9.78],[0.16,-9.84],[0.115,-9.88],[0.155,-9.92],[0.115,-9.96],[0.155,-10],[0.115,-10.03],[0.155,-10.07],[0.115,-10.12],[0.162,-10.16],[0.115,-10.21],[0.17,-10.27],[0.115,-10.33],[0.17,-10.39],[0.13,-10.45],[0.15,-10.51],[0.26,-10.54],[0.15,-10.6],[0.115,-10.67],[0.135,-10.76],[0.21,-10.83],[0.24,-10.89],[0.19,-10.95],[0.14,-11]]],
 [1,[[0.641,-8],[0.645,-8.32],[0.66,-8.62],[0.69,-8.87],[0.72,-8.99],[0.755,-9.04],[0.735,-9.11],[0.77,-9.14],[0.835,-9.25],[0.785,-9.29],[0.745,-9.34],[0.82,-9.4],[0.865,-9.46],[0.825,-9.52],[0.76,-9.57],[0.835,-9.63],[0.88,-9.71],[0.85,-9.78],[0.775,-9.84],[0.838,-9.88],[0.795,-9.92],[0.845,-9.96],[0.795,-10],[0.845,-10.03],[0.795,-10.07],[0.845,-10.12],[0.788,-10.16],[0.845,-10.21],[0.78,-10.27],[0.845,-10.33],[0.775,-10.39],[0.83,-10.45],[0.81,-10.51],[0.74,-10.54],[0.822,-10.6],[0.865,-10.67],[0.845,-10.76],[0.765,-10.83],[0.725,-10.89],[0.77,-10.95],[0.84,-11]]],
 [1,[[0.16,-9.455],[0.22,-9.41],[0.5,-9.405],[0.78,-9.41],[0.82,-9.455],[0.78,-9.5],[0.5,-9.505],[0.22,-9.5],[0.16,-9.455]]],
 [1,[[0.18,-10.66],[0.24,-10.61],[0.5,-10.605],[0.76,-10.61],[0.82,-10.66],[0.76,-10.72],[0.5,-10.82],[0.24,-10.72],[0.18,-10.66]]]
];

const c075 = [];

const panelContours = [c000, c005, c010, c015, c020, c025, c030, c035, c040, c045, c050, c075];

// ---- layout ----
const colLeft = [129, 420, 710];
const rowTop = [24, 385, 745, 1105];
const panelW = 257, panelH = 327;
const levelStyle = [
  { stroke: "#000", width: 2.6 },
  { stroke: "#000", width: 1.0 },
  { stroke: "#8e8e8e", width: 2.3 }
];
const drawOrder = [2, 0, 1];

const svg = d3.select("#chart");
svg.append("rect").attr("width", 968).attr("height", 1518).attr("fill", "#fff");

const yMinorVals = [];
[-11, -10, -9].forEach(e => { for (let k = 2; k <= 9; k++) yMinorVals.push(k * Math.pow(10, e)); });
const yMajorVals = decadeExps.map(e => Math.pow(10, e));

panelContours.forEach((curves, i) => {
  const col = i % 3, row = Math.floor(i / 3);
  const x0 = colLeft[col], y0 = rowTop[row];
  const x = d3.scaleLinear().domain([0, 1]).range([x0, x0 + panelW]);
  const y = d3.scaleLog().domain([1e-11, 1e-8]).range([y0 + panelH, y0]);

  const g = svg.append("g").attr("class", "panel");
  const clipId = "clip" + i;
  g.append("clipPath").attr("id", clipId)
    .append("rect").attr("x", x0).attr("y", y0).attr("width", panelW).attr("height", panelH);

  const line = d3.line()
    .x(d => x(d[0]))
    .y(d => y(Math.pow(10, d[1])))
    .curve(d3.curveCatmullRom.alpha(0.5));

  const cg = g.append("g").attr("clip-path", `url(#${clipId})`);
  drawOrder.forEach(lv => {
    cg.selectAll(null)
      .data(curves.filter(c => c[0] === lv))
      .join("path")
      .attr("d", c => line(c[1]))
      .attr("fill", "none")
      .attr("stroke", levelStyle[lv].stroke)
      .attr("stroke-width", levelStyle[lv].width)
      .attr("stroke-linejoin", "round")
      .attr("stroke-linecap", "round");
  });

  // ticks (inward) on all four sides
  const tickStyle = sel => {
    sel.select(".domain").remove();
    sel.selectAll(".tick line").attr("stroke", "#000").attr("stroke-width", 1.3);
    sel.selectAll(".tick text").remove();
  };
  g.append("g").attr("transform", `translate(0,${y0 + panelH})`)
    .call(d3.axisBottom(x).tickValues(xMinorTicks).tickSize(-8).tickFormat("")).call(tickStyle);
  g.append("g").attr("transform", `translate(0,${y0 + panelH})`)
    .call(d3.axisBottom(x).tickValues(xMajorTicks).tickSize(-17).tickFormat("")).call(tickStyle);
  g.append("g").attr("transform", `translate(0,${y0})`)
    .call(d3.axisTop(x).tickValues(xMinorTicks).tickSize(-8).tickFormat("")).call(tickStyle);
  g.append("g").attr("transform", `translate(0,${y0})`)
    .call(d3.axisTop(x).tickValues(xMajorTicks).tickSize(-17).tickFormat("")).call(tickStyle);
  g.append("g").attr("transform", `translate(${x0},0)`)
    .call(d3.axisLeft(y).tickValues(yMinorVals).tickSize(-8).tickFormat("")).call(tickStyle);
  g.append("g").attr("transform", `translate(${x0},0)`)
    .call(d3.axisLeft(y).tickValues(yMajorVals).tickSize(-16).tickFormat("")).call(tickStyle);
  g.append("g").attr("transform", `translate(${x0 + panelW},0)`)
    .call(d3.axisRight(y).tickValues(yMinorVals).tickSize(-8).tickFormat("")).call(tickStyle);
  g.append("g").attr("transform", `translate(${x0 + panelW},0)`)
    .call(d3.axisRight(y).tickValues(yMajorVals).tickSize(-16).tickFormat("")).call(tickStyle);

  g.append("rect").attr("x", x0).attr("y", y0).attr("width", panelW).attr("height", panelH)
    .attr("fill", "none").attr("stroke", "#000").attr("stroke-width", 2.2);

  // sin^2 theta13 annotation
  const lab = g.append("text")
    .attr("x", x(0.2)).attr("y", y(Math.pow(10, -9.72)))
    .attr("font-size", 19);
  lab.append("tspan").text("sin");
  lab.append("tspan").attr("dy", -8).attr("font-size", 12.5).text("2");
  lab.append("tspan").attr("dy", 8).text("\u03B8");
  lab.append("tspan").attr("dy", 5).attr("font-size", 12.5).text("13");
  lab.append("tspan").attr("dy", -5).text("= " + thetaLabels[i]);

  // y-axis decade labels and title for the first column
  if (col === 0) {
    rowLabelExps[row].forEach(e => {
      const t = g.append("text").attr("x", 111).attr("y", y(Math.pow(10, e)) + 6)
        .attr("text-anchor", "end").attr("font-size", 18);
      t.append("tspan").text("10");
      t.append("tspan").attr("dx", 5).attr("dy", -14).attr("font-size", 13).text(String(e));
    });
    const ty = g.append("text")
      .attr("transform", `translate(40,${y0 + 54}) rotate(-90)`)
      .attr("text-anchor", "middle").attr("font-size", 23);
    ty.append("tspan").text("\u0394m");
    ty.append("tspan").attr("dy", -10).attr("font-size", 15).text("2");
    ty.append("tspan").attr("dx", -8).attr("dy", 19).attr("font-size", 15).text("12");
    ty.append("tspan").attr("dy", -9).text("(eV");
    ty.append("tspan").attr("dy", -10).attr("font-size", 15).text("2");
    ty.append("tspan").attr("dy", 10).text(")");
  }

  // x tick labels and axis title under the bottom row
  if (row === 3) {
    xTickLabels.forEach(v => {
      const atEdge = (col === 2 && v === 1);
      g.append("text").attr("x", atEdge ? 967 : x(v)).attr("y", y0 + panelH + 32)
        .attr("text-anchor", atEdge ? "end" : "middle").attr("font-size", 19).text(String(v));
    });
    const tx = g.append("text").attr("x", x(0.5)).attr("y", y0 + panelH + 77)
      .attr("text-anchor", "middle").attr("font-size", 24);
    tx.append("tspan").text("sin");
    tx.append("tspan").attr("dy", -10).attr("font-size", 15).text("2");
    tx.append("tspan").attr("dx", 5).attr("dy", 10).text("\u03B8");
    tx.append("tspan").attr("dy", 7).attr("font-size", 15).text("12");
  }

  // confidence level legend inside the first panel
  if (i === 0) {
    levelLabels.forEach((name, k) => {
      const ly = y(Math.pow(10, legendLogY[k]));
      g.append("line").attr("x1", x(0.41)).attr("x2", x(0.5)).attr("y1", ly).attr("y2", ly)
        .attr("stroke", levelStyle[k].stroke).attr("stroke-width", levelStyle[k].width);
      g.append("text").attr("x", x(0.54)).attr("y", ly + 5).attr("font-size", 14).text(name);
    });
  }
});
</script>
</body>
</html>
